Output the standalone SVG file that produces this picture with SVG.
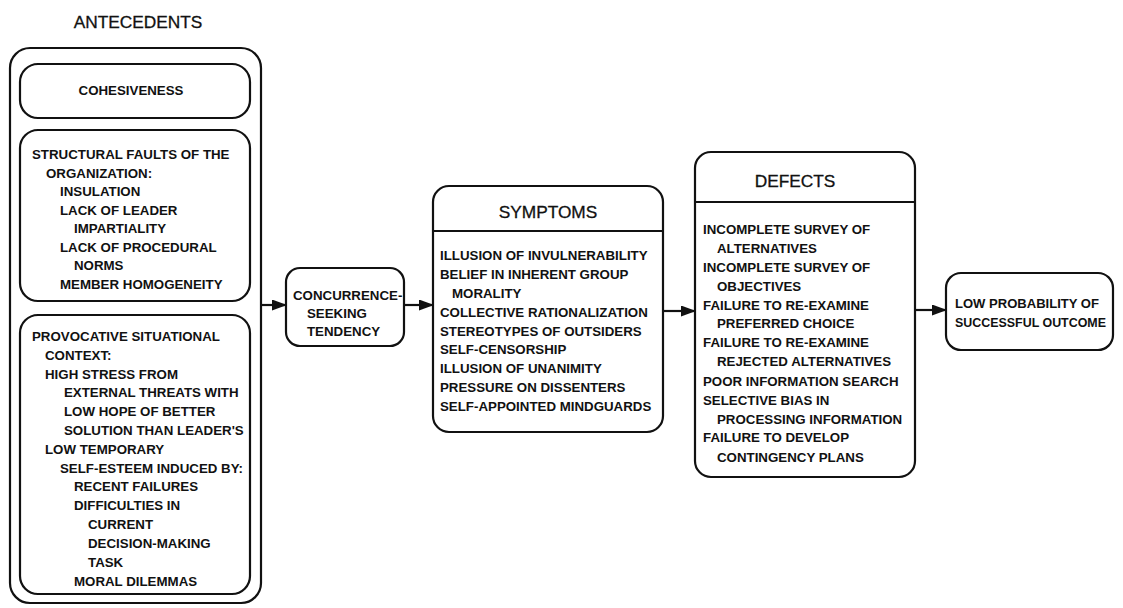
<svg xmlns="http://www.w3.org/2000/svg" width="1123" height="608" viewBox="0 0 1123 608">
  <style>
    .box { fill: none; stroke: #111; stroke-width: 2.2; }
    .item { font-family: "Liberation Sans", Arial, sans-serif; font-weight: bold; font-size: 13.3px; fill: #111; }
    .head { font-family: "Liberation Sans", Arial, sans-serif; font-size: 17.3px; fill: #111; stroke: #111; stroke-width: 0.3; }
    .wire { stroke: #111; stroke-width: 2.2; fill: none; }
  </style>
  <defs>
    <marker id="arrow" markerWidth="15" markerHeight="11" refX="14" refY="5.5" orient="auto" markerUnits="userSpaceOnUse">
      <path d="M0,0 L15,5.5 L0,11 Z" fill="#111"/>
    </marker>
  </defs>
  <rect width="1123" height="608" fill="#fff"/>

  <!-- Antecedent conditions -->
  <g id="antecedents">
    <text class="head" x="138" y="28" text-anchor="middle">ANTECEDENTS</text>
    <rect class="box" x="10" y="48" width="251" height="555" rx="20"/>
  </g>

  <g id="cohesiveness">
    <rect class="box" x="20" y="64" width="230" height="54" rx="18"/>
    <text class="item" x="131" y="95" text-anchor="middle">COHESIVENESS</text>
  </g>

  <g id="structural-faults">
    <rect class="box" x="20" y="130" width="230" height="171" rx="18"/>
    <text class="item" x="32" y="159">STRUCTURAL FAULTS OF THE</text>
    <text class="item" x="46" y="178">ORGANIZATION:</text>
    <text class="item" x="60" y="196">INSULATION</text>
    <text class="item" x="60" y="215">LACK OF LEADER</text>
    <text class="item" x="74" y="233">IMPARTIALITY</text>
    <text class="item" x="60" y="252">LACK OF PROCEDURAL</text>
    <text class="item" x="74" y="270">NORMS</text>
    <text class="item" x="60" y="289">MEMBER HOMOGENEITY</text>
  </g>

  <g id="situational-context">
    <rect class="box" x="20" y="315" width="230" height="279" rx="18"/>
    <text class="item" x="32" y="341">PROVOCATIVE SITUATIONAL</text>
    <text class="item" x="45" y="360">CONTEXT:</text>
    <text class="item" x="45" y="379">HIGH STRESS FROM</text>
    <text class="item" x="64" y="397">EXTERNAL THREATS WITH</text>
    <text class="item" x="64" y="416">LOW HOPE OF BETTER</text>
    <text class="item" x="64" y="435">SOLUTION THAN LEADER'S</text>
    <text class="item" x="45" y="454">LOW TEMPORARY</text>
    <text class="item" x="60" y="473">SELF-ESTEEM INDUCED BY:</text>
    <text class="item" x="74" y="491">RECENT FAILURES</text>
    <text class="item" x="74" y="510">DIFFICULTIES IN</text>
    <text class="item" x="88" y="529">CURRENT</text>
    <text class="item" x="88" y="548">DECISION-MAKING</text>
    <text class="item" x="88" y="567">TASK</text>
    <text class="item" x="74" y="586">MORAL DILEMMAS</text>
  </g>

  <g id="concurrence">
    <rect class="box" x="286" y="268" width="118" height="78" rx="14"/>
    <text class="item" x="293" y="300">CONCURRENCE-</text>
    <text class="item" x="307" y="318">SEEKING</text>
    <text class="item" x="307" y="336">TENDENCY</text>
  </g>

  <g id="symptoms">
    <rect class="box" x="433" y="186" width="230" height="246" rx="16"/>
    <line class="box" x1="433" y1="231" x2="663" y2="231"/>
    <text class="head" x="548" y="218" text-anchor="middle">SYMPTOMS</text>
    <text class="item" x="440" y="260">ILLUSION OF INVULNERABILITY</text>
    <text class="item" x="440" y="279">BELIEF IN INHERENT GROUP</text>
    <text class="item" x="452" y="298">MORALITY</text>
    <text class="item" x="440" y="317">COLLECTIVE RATIONALIZATION</text>
    <text class="item" x="440" y="336">STEREOTYPES OF OUTSIDERS</text>
    <text class="item" x="440" y="354">SELF-CENSORSHIP</text>
    <text class="item" x="440" y="373">ILLUSION OF UNANIMITY</text>
    <text class="item" x="440" y="392">PRESSURE ON DISSENTERS</text>
    <text class="item" x="440" y="411">SELF-APPOINTED MINDGUARDS</text>
  </g>

  <g id="defects">
    <rect class="box" x="695" y="152" width="220" height="325" rx="16"/>
    <line class="box" x1="695" y1="202" x2="915" y2="202"/>
    <text class="head" x="795" y="187" text-anchor="middle">DEFECTS</text>
    <text class="item" x="703" y="234">INCOMPLETE SURVEY OF</text>
    <text class="item" x="717" y="253">ALTERNATIVES</text>
    <text class="item" x="703" y="272">INCOMPLETE SURVEY OF</text>
    <text class="item" x="717" y="291">OBJECTIVES</text>
    <text class="item" x="703" y="310">FAILURE TO RE-EXAMINE</text>
    <text class="item" x="717" y="328">PREFERRED CHOICE</text>
    <text class="item" x="703" y="347">FAILURE TO RE-EXAMINE</text>
    <text class="item" x="717" y="366">REJECTED ALTERNATIVES</text>
    <text class="item" x="703" y="386">POOR INFORMATION SEARCH</text>
    <text class="item" x="703" y="405">SELECTIVE BIAS IN</text>
    <text class="item" x="717" y="424">PROCESSING INFORMATION</text>
    <text class="item" x="703" y="442">FAILURE TO DEVELOP</text>
    <text class="item" x="717" y="462">CONTINGENCY PLANS</text>
  </g>

  <g id="outcome">
    <rect class="box" x="946" y="273" width="167" height="77" rx="15"/>
    <text class="item" x="955" y="308" textLength="144" lengthAdjust="spacingAndGlyphs">LOW PROBABILITY OF</text>
    <text class="item" x="955" y="327" textLength="151" lengthAdjust="spacingAndGlyphs">SUCCESSFUL OUTCOME</text>
  </g>

  <!-- Connectors -->
  <g id="connectors">
    <line class="wire" x1="261" y1="305" x2="286" y2="305" marker-end="url(#arrow)"/>
    <line class="wire" x1="404" y1="305" x2="433" y2="305" marker-end="url(#arrow)"/>
    <line class="wire" x1="663" y1="311" x2="695" y2="311" marker-end="url(#arrow)"/>
    <line class="wire" x1="915" y1="310" x2="946" y2="310" marker-end="url(#arrow)"/>
  </g>
</svg>
